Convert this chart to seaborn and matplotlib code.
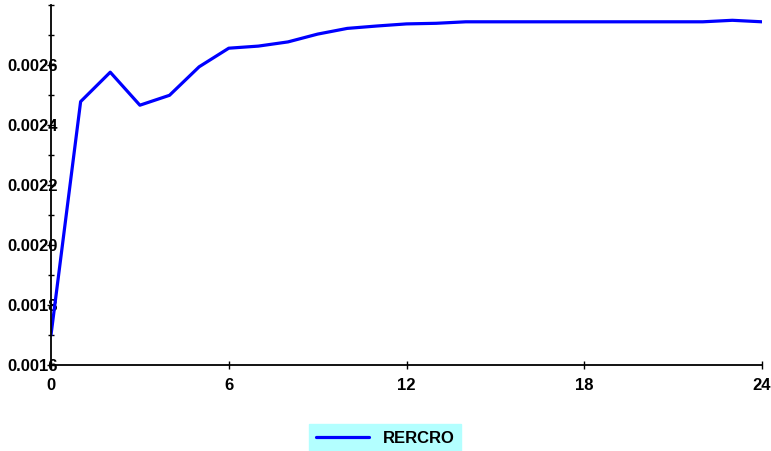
import pandas as pd
import numpy as np
import matplotlib
matplotlib.use("Agg")
import matplotlib.pyplot as plt
import seaborn as sns
from matplotlib.ticker import MultipleLocator, FixedLocator

# data
periods = list(range(25))
rercro = [0.00170, 0.002478, 0.002576, 0.002466, 0.002499, 0.002594, 0.002656,
          0.002663, 0.002677, 0.002703, 0.002722, 0.002730, 0.002737, 0.002739,
          0.002744, 0.002744, 0.002744, 0.002744, 0.002744, 0.002744, 0.002744,
          0.002744, 0.002744, 0.002749, 0.002744]
x_ticks = [0, 6, 12, 18, 24]
y_ticks = [0.0016, 0.0018, 0.0020, 0.0022, 0.0024, 0.0026]
series_name = "RERCRO"

df = pd.DataFrame({"period": periods, "value": rercro, "series": series_name})

sns.set_style("white")
plt.rcParams["font.family"] = ["Liberation Sans Narrow", "Liberation Sans", "DejaVu Sans"]
plt.rcParams["font.weight"] = "bold"
plt.rcParams["text.color"] = "black"
plt.rcParams["xtick.color"] = "black"
plt.rcParams["ytick.color"] = "black"

fig = plt.figure(figsize=(7.71, 4.51), dpi=100)
ax = fig.add_axes([51 / 771, 86 / 451, 711 / 771, 360 / 451])

sns.lineplot(data=df, x="period", y="value", hue="series", palette=["#0000ff"],
             linewidth=2.3, ax=ax, legend=False)

ax.set_xlim(0, 24)
ax.set_ylim(0.0016, 0.0028)
ax.xaxis.set_major_locator(FixedLocator(x_ticks))
ax.yaxis.set_major_locator(FixedLocator(y_ticks))
ax.yaxis.set_minor_locator(MultipleLocator(0.0001))
ax.set_xticklabels([str(t) for t in x_ticks], fontsize=12, fontweight="bold")
ax.set_yticklabels([f"{t:.4f}" for t in y_ticks], fontsize=12, fontweight="bold")
ax.set_xlabel("")
ax.set_ylabel("")

for side in ["top", "right"]:
    ax.spines[side].set_visible(False)
for side in ["left", "bottom"]:
    ax.spines[side].set_color("black")
    ax.spines[side].set_linewidth(1.3)

ax.tick_params(axis="both", which="both", direction="inout", color="black",
               labelcolor="black", left=True, bottom=True)
ax.tick_params(axis="both", which="major", length=6, width=1)
ax.tick_params(axis="both", which="minor", length=4, width=1)
ax.tick_params(axis="y", which="major", pad=-8)
ax.tick_params(axis="x", which="major", pad=6)

ax.plot([], [], color="#0000ff", linewidth=2.3, label=series_name)
leg = fig.legend(loc="lower center", bbox_to_anchor=(385 / 771, -10 / 451), ncol=1,
                 frameon=True, fancybox=False, facecolor="#b3ffff",
                 edgecolor="#b3ffff", framealpha=1, handlelength=3.2,
                 prop={"weight": "bold", "size": 12}, borderpad=0.4)

fig.savefig("out.png", dpi=100)
